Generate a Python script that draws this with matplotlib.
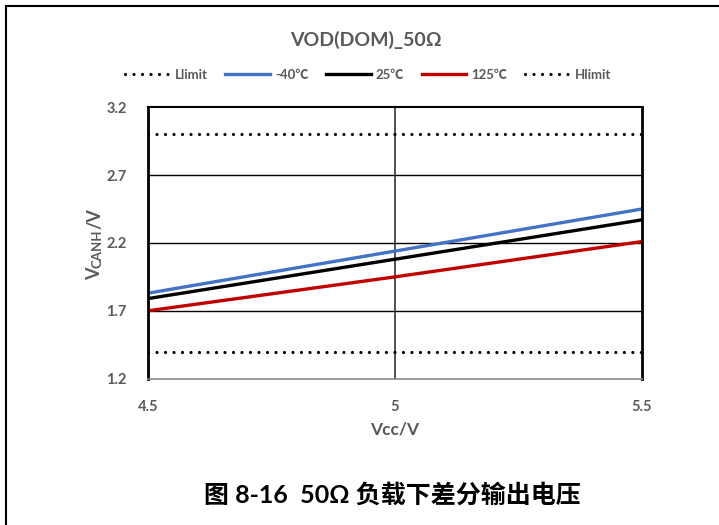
import matplotlib
matplotlib.use('Agg')
import matplotlib.pyplot as plt
from matplotlib.lines import Line2D

# data
vcc = [4.5, 5.0, 5.5]
v_m40 = [1.83, 2.14, 2.45]
v_25 = [1.79, 2.08, 2.37]
v_125 = [1.70, 1.95, 2.21]
llimit = [1.4, 1.4, 1.4]
hlimit = [3.0, 3.0, 3.0]
xticks = [4.5, 5, 5.5]
yticks = [1.2, 1.7, 2.2, 2.7, 3.2]

gray = '#595959'
fonts = ['Lato', 'Noto Sans CJK SC', 'DejaVu Sans']
plt.rcParams['font.family'] = fonts

fig = plt.figure(figsize=(7.19, 5.25), dpi=100)
ax = fig.add_axes([147.7/719, 1-378.7/525, (641.5-147.7)/719, (378.7-107.3)/525])

dot = (0, (0.01, 2.65))
ax.plot(vcc, llimit, color='black', lw=2.3, linestyle=dot, dash_capstyle='round', label='Llimit')
ax.plot(vcc, v_m40, color='#4472C4', lw=2.4, label='-40℃')
ax.plot(vcc, v_25, color='black', lw=2.4, label='25℃')
ax.plot(vcc, v_125, color='#C00000', lw=2.4, label='125℃')
ax.plot(vcc, hlimit, color='black', lw=2.3, linestyle=dot, dash_capstyle='round', label='Hlimit')

ax.set_xlim(4.5, 5.5)
ax.set_ylim(1.2, 3.2)
ax.set_xticks(xticks)
ax.set_xticklabels(['4.5', '5', '5.5'])
ax.set_yticks(yticks)
ax.set_yticklabels(['1.2', '1.7', '2.2', '2.7', '3.2'])
ax.tick_params(length=0, labelsize=10.5, labelcolor=gray)
ax.tick_params(axis='x', pad=15)
ax.tick_params(axis='y', pad=15)
for lab in ax.get_xticklabels() + ax.get_yticklabels():
    lab.set_fontweight('bold')

for y in [1.7, 2.2, 2.7]:
    ax.axhline(y, color='black', lw=1.0, zorder=0)
ax.axvline(5, color='#333333', lw=1.2, zorder=0)

ax.spines['left'].set_linewidth(2.0)
ax.spines['right'].set_linewidth(2.0)
ax.spines['top'].set_linewidth(1.5)
ax.spines['bottom'].set_linewidth(1.2)
ax.spines['bottom'].set_color('#888888')

ax.set_xlabel('Vcc/V', fontsize=12.5, color=gray, fontweight='bold', labelpad=6)

# y label: V with small-caps CANH
t1 = fig.text(103/719, 1-280/525, 'V', rotation=90, fontsize=13, color=gray,
              fontweight='bold', ha='right', va='bottom')
a2 = ax.annotate('CANH', xy=(1, 1), xycoords=t1, ha='right', va='bottom', rotation=90,
                 fontsize=9.5, color=gray, fontweight='bold', annotation_clip=False)
a3 = ax.annotate('/V', xy=(1, 1), xycoords=a2, ha='right', va='bottom', rotation=90,
                 fontsize=13, color=gray, fontweight='bold', annotation_clip=False)

fig.text(366/719, 1-40/525, 'VOD(DOM)_50Ω', fontsize=14, color=gray,
         fontweight='bold', ha='center', va='center')

fig.legend(loc='center', bbox_to_anchor=(368/719, 1-75/525), ncol=5, frameon=False,
           labelcolor=gray, handlelength=3.4, handletextpad=0.4,
           columnspacing=1.3, prop={'weight': 'bold', 'size': 9.5})

fig.text(392/719, 1-495/525, '图 8-16  50Ω 负载下差分输出电压', fontsize=18,
         color='black', fontweight='bold', ha='center', va='center')

# outer frame lines
fig.add_artist(Line2D([6/719, 1], [1-6/525, 1-6/525], color='black', lw=1.5,
                      transform=fig.transFigure))
fig.add_artist(Line2D([6/719, 6/719], [0, 1-6/525], color='black', lw=1.5,
                      transform=fig.transFigure))

fig.savefig('out.png', dpi=100)
